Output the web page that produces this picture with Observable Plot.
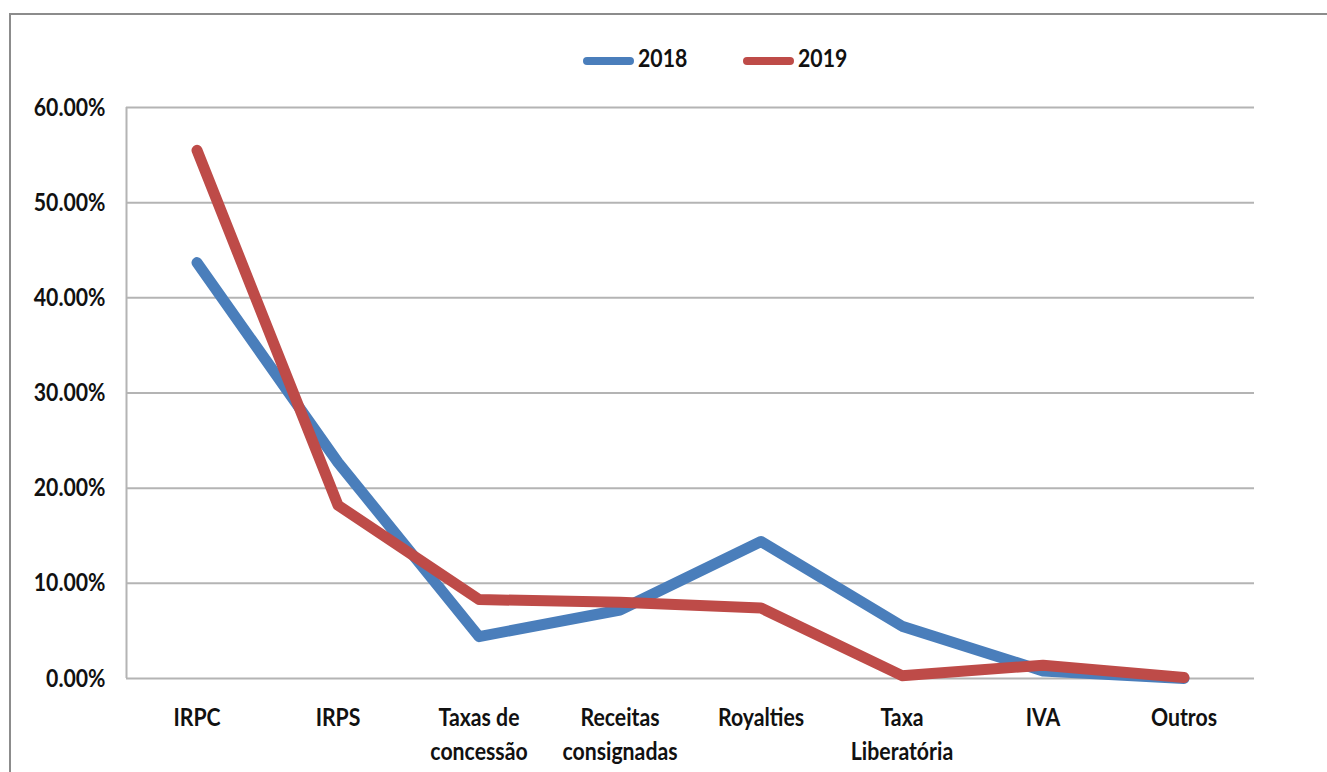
<!DOCTYPE html>
<html>
<head>
<meta charset="utf-8">
<script src="https://cdn.jsdelivr.net/npm/d3@7"></script>
<script src="https://cdn.jsdelivr.net/npm/@observablehq/plot@0.6"></script>
<style>
  html, body { margin: 0; padding: 0; background: #fff; overflow: hidden; width: 1327px; height: 772px; }
  #frame { position: absolute; left: 9px; top: 13px; width: 1400px; height: 800px; border: 2px solid #8c8c8c; box-sizing: border-box; }
  #chart { position: absolute; left: 0; top: 0; }
  #legend { position: absolute; left: 0; top: 0; }
</style>
</head>
<body>
<div id="frame"></div>
<div id="chart"></div>
<svg id="legend" width="1327" height="90"></svg>
<script>
const categories = ["IRPC", "IRPS", "Taxas de\nconcessão", "Receitas\nconsignadas", "Royalties", "Taxa\nLiberatória", "IVA", "Outros"];
const seriesNames = ["2018", "2019"];
const values2018 = [0.437, 0.227, 0.044, 0.072, 0.144, 0.055, 0.008, 0.000];
const values2019 = [0.555, 0.182, 0.083, 0.080, 0.074, 0.003, 0.014, 0.001];
const colors = ["#4A7EBB", "#BE4B48"];
const yTicks = [0, 0.1, 0.2, 0.3, 0.4, 0.5, 0.6];

const rows = [];
categories.forEach((c, i) => {
  rows.push({i, series: seriesNames[0], v: values2018[i]});
  rows.push({i, series: seriesNames[1], v: values2019[i]});
});

const font = "Lato, 'Open Sans', sans-serif";
const SX = 0.85;

const chart = Plot.plot({
  width: 1327,
  height: 772,
  marginLeft: 126,
  marginRight: 73,
  marginTop: 107,
  marginBottom: 94,
  style: { fontFamily: font, fontSize: "25px", fontWeight: "bold", color: "#111", background: "transparent" },
  x: { type: "linear", domain: [-0.5, categories.length - 0.5] },
  y: { domain: [0, 0.6] },
  color: { domain: seriesNames, range: colors },
  marks: [
    Plot.ruleY(yTicks, { stroke: "#b4b4b4", strokeWidth: 2 }),
    Plot.ruleX([-0.5], { stroke: "#b4b4b4", strokeWidth: 2 }),
    Plot.axisY({ ticks: yTicks, tickSize: 0, tickPadding: 21, tickFormat: d => (d * 100).toFixed(2) + "%", label: null, fontSize: 25 }),
    Plot.axisX({ ticks: d3.range(categories.length), tickSize: 0, tickPadding: 23, tickFormat: i => categories[i], label: null, lineHeight: 1.38, fontSize: 25 }),
    Plot.line(rows, { x: "i", y: "v", z: "series", stroke: "series", strokeWidth: 11, strokeLinecap: "round", strokeLinejoin: "round" })
  ]
});
document.getElementById("chart").appendChild(chart);

// condense axis text horizontally (the reference uses a narrow face)
d3.select(chart).selectAll("text").each(function() {
  const t = d3.select(this);
  const tr = t.attr("transform");
  if (tr) {
    t.attr("transform", tr + ` scale(${SX},1)`);
  } else {
    const x = +(t.attr("x") || 0);
    t.attr("transform", `translate(${x * (1 - SX)},0) scale(${SX},1)`);
  }
});

// legend
const lg = d3.select("#legend");
const legendX = [583, 743];
seriesNames.forEach((s, k) => {
  lg.append("line")
    .attr("x1", legendX[k] + 4).attr("x2", legendX[k] + 47)
    .attr("y1", 61).attr("y2", 61)
    .attr("stroke", colors[k]).attr("stroke-width", 8).attr("stroke-linecap", "round");
  lg.append("text")
    .attr("transform", `translate(${legendX[k] + 55},67) scale(${SX},1)`)
    .attr("font-family", font).attr("font-weight", "bold").attr("font-size", 25)
    .attr("fill", "#111")
    .text(s);
});
</script>
</body>
</html>
